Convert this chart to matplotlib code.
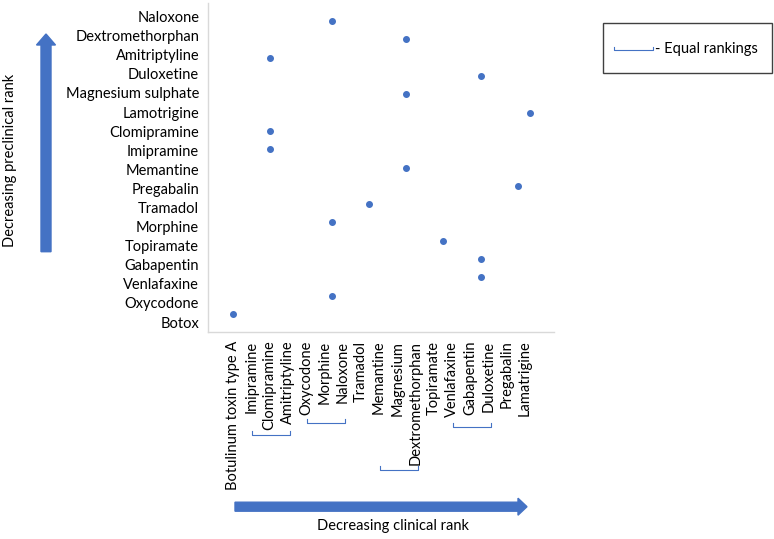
import matplotlib
matplotlib.use("Agg")
import matplotlib.pyplot as plt
import numpy as np
from matplotlib.patches import FancyArrow, Rectangle
from matplotlib.transforms import IdentityTransform

# preclinical order, bottom (rank 1) to top
drugs = ["Botox", "Oxycodone", "Venlafaxine", "Gabapentin", "Topiramate", "Morphine",
         "Tramadol", "Pregabalin", "Memantine", "Imipramine", "Clomipramine", "Lamotrigine",
         "Magnesium sulphate", "Duloxetine", "Amitriptyline", "Dextromethorphan", "Naloxone"]
preclinical = list(range(1, 18))
clinical = [1.41, 6.83, 14.98, 14.98, 12.93, 6.83, 8.87, 17.02, 10.88, 3.43, 3.43, 17.68,
            10.88, 14.98, 3.43, 10.88, 6.83]

clinical_labels = ["Botulinum toxin type A", "Imipramine", "Clomipramine", "Amitriptyline",
                   "Oxycodone", "Morphine", "Naloxone", "Tramadol", "Memantine", "Magnesium",
                   "Dextromethorphan", "Topiramate", "Venlafaxine", "Gabapentin", "Duloxetine",
                   "Pregabalin", "Lamatrigine"]
# groups of equal clinical ranking (first, last label index)
equal_groups = [(1, 3), (4, 6), (8, 10), (12, 14)]

W, H = 774, 539
BLUE = "#4472C4"
FONT = "Lato"
FS = 10.5

fig = plt.figure(figsize=(W / 100, H / 100), dpi=100)
ax = fig.add_axes([207.5 / W, 1 - 332.3 / H, 346.5 / W, 329.6 / H])

ax.plot(clinical, preclinical, "o", color=BLUE, markersize=4, clip_on=False)

ax.set_xlim(0, 19)
ax.set_ylim(0, 18)

xt = 1.41 + np.arange(len(clinical_labels)) * 1.0
ax.set_xticks(xt)
ax.set_xticklabels(clinical_labels, rotation=90, fontsize=FS, family=FONT)
yt = np.linspace(0.56, 17.24, len(drugs))
ax.set_yticks(yt)
ax.set_yticklabels(drugs, fontsize=FS, family=FONT)
ax.tick_params(length=0, pad=6)

for s in ["top", "right"]:
    ax.spines[s].set_visible(False)
for s in ["left", "bottom"]:
    ax.spines[s].set_color("#d9d9d9")
    ax.spines[s].set_linewidth(1)

# brackets under tied labels (y in pixels below the axis)
bracket_drop = [102.7, 90.4, 137.7, 94.4]
trans = ax.get_xaxis_transform()
for (a, b), d in zip(equal_groups, bracket_drop):
    yb = -d / 329.6
    yt2 = -(d - 4) / 329.6
    ax.plot([xt[a] + 0.05, xt[a] + 0.05, xt[b] + 0.12, xt[b] + 0.12], [yt2, yb, yb, yt2],
            color=BLUE, lw=0.8, transform=trans, clip_on=False)

ident = IdentityTransform()


def px(x, y):
    return x, H - y


# arrows
x0, y0 = px(46, 251.7)
fig.patches.append(FancyArrow(x0, y0, 0, 251.7 - 34, width=10, head_width=19, head_length=11,
                              length_includes_head=True, color=BLUE, transform=ident))
x0, y0 = px(235, 506.7)
fig.patches.append(FancyArrow(x0, y0, 527 - 235, 0, width=9, head_width=17, head_length=9,
                              length_includes_head=True, color=BLUE, transform=ident))

fig.text(10 / W, 1 - 160.5 / H, "Decreasing preclinical rank", rotation=90, ha="center",
         va="center", fontsize=FS, family=FONT)
fig.text(392.5 / W, 1 - 526 / H, "Decreasing clinical rank", ha="center", va="center",
         fontsize=FS, family=FONT)

# legend box
bx, by = px(602.7, 73.3)
fig.patches.append(Rectangle((bx, by), 169, 50, fill=False, edgecolor="#404040", lw=1,
                             transform=ident))
lx0, ly0 = px(614, 50)
lx1, _ = px(653, 50)
fig.lines.append(plt.Line2D([lx0, lx0, lx1, lx1], [ly0 + 3, ly0, ly0, ly0 + 3], color=BLUE,
                            lw=0.8, transform=ident))
tx, ty = px(655, 48.5)
fig.text(tx / W, ty / H, "- Equal rankings", ha="left", va="center", fontsize=FS, family=FONT)

fig.savefig("out.png", dpi=100)
